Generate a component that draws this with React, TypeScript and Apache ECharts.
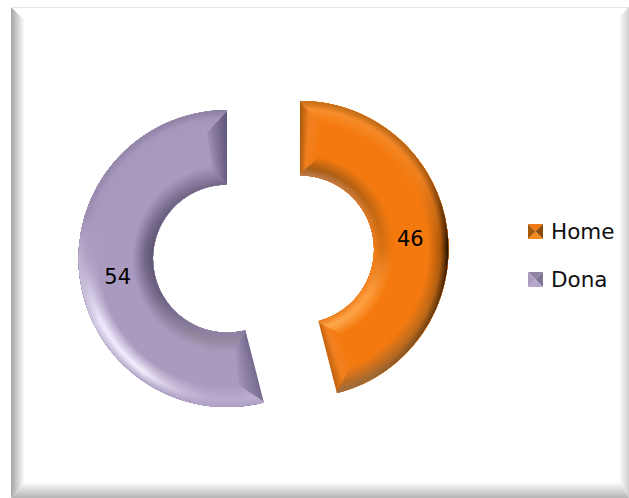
import React, { useEffect, useRef } from "react";
import * as echarts from "echarts";

const categories = ["Home", "Dona"];
const values = [46, 54];

const BASE = ["#f47a10", "#ab9abf"];
const LABEL_SHIFT = [[-3, 4], [4, 4]];
const BW = 20;
const STEPS = 14;
const RO = 148.5;
const RI = 74;

type Prof = [number, string, string][];
const hex = (c: string) => [1, 3, 5].map((i) => parseInt(c.slice(i, i + 2), 16));
const mix = (a: string, b: string, t: number) => {
  const A = hex(a), B = hex(b);
  return "rgb(" + A.map((v, i) => Math.round(v + (B[i] - v) * t)).join(",") + ")";
};
const grad = (p: Prof, base: string, t: number) => ({
  type: "linear", x: 0, y: 0, x2: 0, y2: 1,
  colorStops: p.map(([o, e, m]) => ({
    offset: o,
    color: t < 0.35 ? mix(e, m, t / 0.35) : mix(m, base, (t - 0.35) / 0.65),
  })),
});

const OUTER: Prof[] = [
  [[0, "#c8701a", "#f98e2c"], [0.25, "#a85c12", "#ee8020"], [0.5, "#2a1200", "#a85508"], [0.75, "#704010", "#c06a18"], [1, "#a07040", "#b86c28"]],
  [[0, "#8f82a5", "#a596ba"], [0.35, "#9a8cb0", "#a797bd"], [0.5, "#c0b4d0", "#b0a1c5"], [0.72, "#cfc6e0", "#f0eaff"], [0.9, "#b9adce", "#f6f0ff"], [1, "#b0a2c6", "#b7a8cc"]],
];
const INNER: Prof[] = [
  [[0, "#b8784a", "#a85c14"], [0.5, "#f07a14", "#d87010"], [0.8, "#f58a2a", "#ffa040"], [1, "#f08020", "#fdaa50"]],
  [[0, "#75698a", "#8a7c9f"], [0.45, "#5e5470", "#6f6385"], [0.75, "#6a5f7e", "#7d7092"], [1, "#8f82a6", "#95879f"]],
];
const ENDS: Prof[] = [
  [[0, "#b05c0c", "#f28020"], [1, "#c8650f", "#f28020"]],
  [[0, "#62587a", "#7a6e92"], [1, "#7a6e92", "#8b7ea3"]],
];

const deg = (r: number) => (r * 180) / Math.PI;

function layer(radius: [number, number], padAngle: number, colorOf: (i: number) => any, label = false) {
  return {
    type: "pie",
    center: [263.5, 254],
    radius,
    startAngle: 90,
    padAngle,
    selectedMode: "multiple",
    selectedOffset: 36.8,
    silent: true,
    animation: false,
    emphasis: { disabled: true },
    labelLine: { show: false },
    label: label
      ? { show: true, position: "inside", formatter: "{c}", color: "#000", fontFamily: "DejaVu Sans", fontSize: 21 }
      : { show: false },
    ...(label
      ? { labelLayout: (p: any) => ({ dx: LABEL_SHIFT[p.dataIndex][0], dy: LABEL_SHIFT[p.dataIndex][1] }) }
      : {}),
    data: categories.map((name, i) => ({
      name,
      value: values[i],
      selected: true,
      itemStyle: { color: colorOf(i), borderWidth: 0 },
      select: { itemStyle: { color: colorOf(i) } },
    })),
  };
}

function buildSeries() {
  const out: any[] = [];
  const step = BW / STEPS;
  for (let s = 0; s <= STEPS; s++) {
    const d = s * step;
    out.push(layer([RI, RO], deg((2 * d) / 112), (i) => grad(ENDS[i], BASE[i], s / STEPS)));
  }
  for (let s = 0; s < STEPS; s++) {
    const d = s * step;
    out.push(layer([RO - d - step - 0.6, RO - d], deg((2 * d) / (RO - d)), (i) => grad(OUTER[i], BASE[i], s / STEPS)));
  }
  for (let s = 0; s < STEPS; s++) {
    const d = s * step;
    out.push(layer([RI + d, RI + d + step + 0.6], deg((2 * d) / (RI + d)), (i) => grad(INNER[i], BASE[i], s / STEPS)));
  }
  out.push(layer([RI + BW, RO - BW], 18, (i) => BASE[i], true));
  return out;
}

const lin = (x: number, y: number, x2: number, y2: number, a: string, b: string) => ({
  type: "linear", x, y, x2, y2,
  colorStops: [{ offset: 0, color: a }, { offset: 1, color: b }],
});
const poly = (points: number[][], fill: any, z = -1) => ({
  type: "polygon", z, silent: true, shape: { points }, style: { fill },
});

function frame() {
  const L = 11, T = 7, R = 629, B = 498;
  return [
    poly([[L, T], [L + 14, T + 14], [L + 14, B - 16], [L, B]], lin(0, 0, 1, 0, "#a6a6a6", "#ffffff")),
    poly([[L, T], [R, T], [R, T + 1], [L, T + 1]], "#e6e6e6"),
    poly([[R, T], [R, B], [R - 10, B - 16], [R - 10, T + 10]], lin(1, 0, 0, 0, "#cfcfcf", "#ffffff")),
    poly([[L, B], [R, B], [R - 10, B - 16], [L + 14, B - 16]], lin(0, 1, 0, 0, "#b4b4b4", "#ffffff")),
  ];
}

function swatch(x: number, y: number, s: number, c: string[]) {
  const m = [x + s / 2, y + s / 2];
  return [
    poly([[x, y], [x + s, y], m], c[0], 100),
    poly([[x + s, y], [x + s, y + s], m], c[1], 100),
    poly([[x + s, y + s], [x, y + s], m], c[2], 100),
    poly([[x, y + s], [x, y], m], c[3], 100),
  ];
}

export default function App() {
  const ref = useRef<HTMLDivElement>(null);
  useEffect(() => {
    document.body.style.margin = "0";
    const chart = echarts.init(ref.current!, undefined, { renderer: "svg" });
    chart.setOption({
      animation: false,
      backgroundColor: "#ffffff",
      legend: {
        orient: "vertical",
        left: 526,
        top: 215,
        data: categories,
        icon: "rect",
        itemWidth: 15,
        itemHeight: 15,
        itemGap: 26,
        selectedMode: false,
        itemStyle: { opacity: 0 },
        textStyle: { fontFamily: "DejaVu Sans", fontSize: 21.5, color: "#111" },
      },
      graphic: [
        ...frame(),
        ...swatch(528, 224, 15, ["#f07a14", "#8a4a0a", "#f58a20", "#a85a0c"]),
        ...swatch(528, 272, 15, ["#8f84a2", "#7f7494", "#b4a6c8", "#aa9cc0"]),
      ],
      series: buildSeries(),
    });
    return () => chart.dispose();
  }, []);
  return <div ref={ref} style={{ width: 629, height: 498 }} />;
}
